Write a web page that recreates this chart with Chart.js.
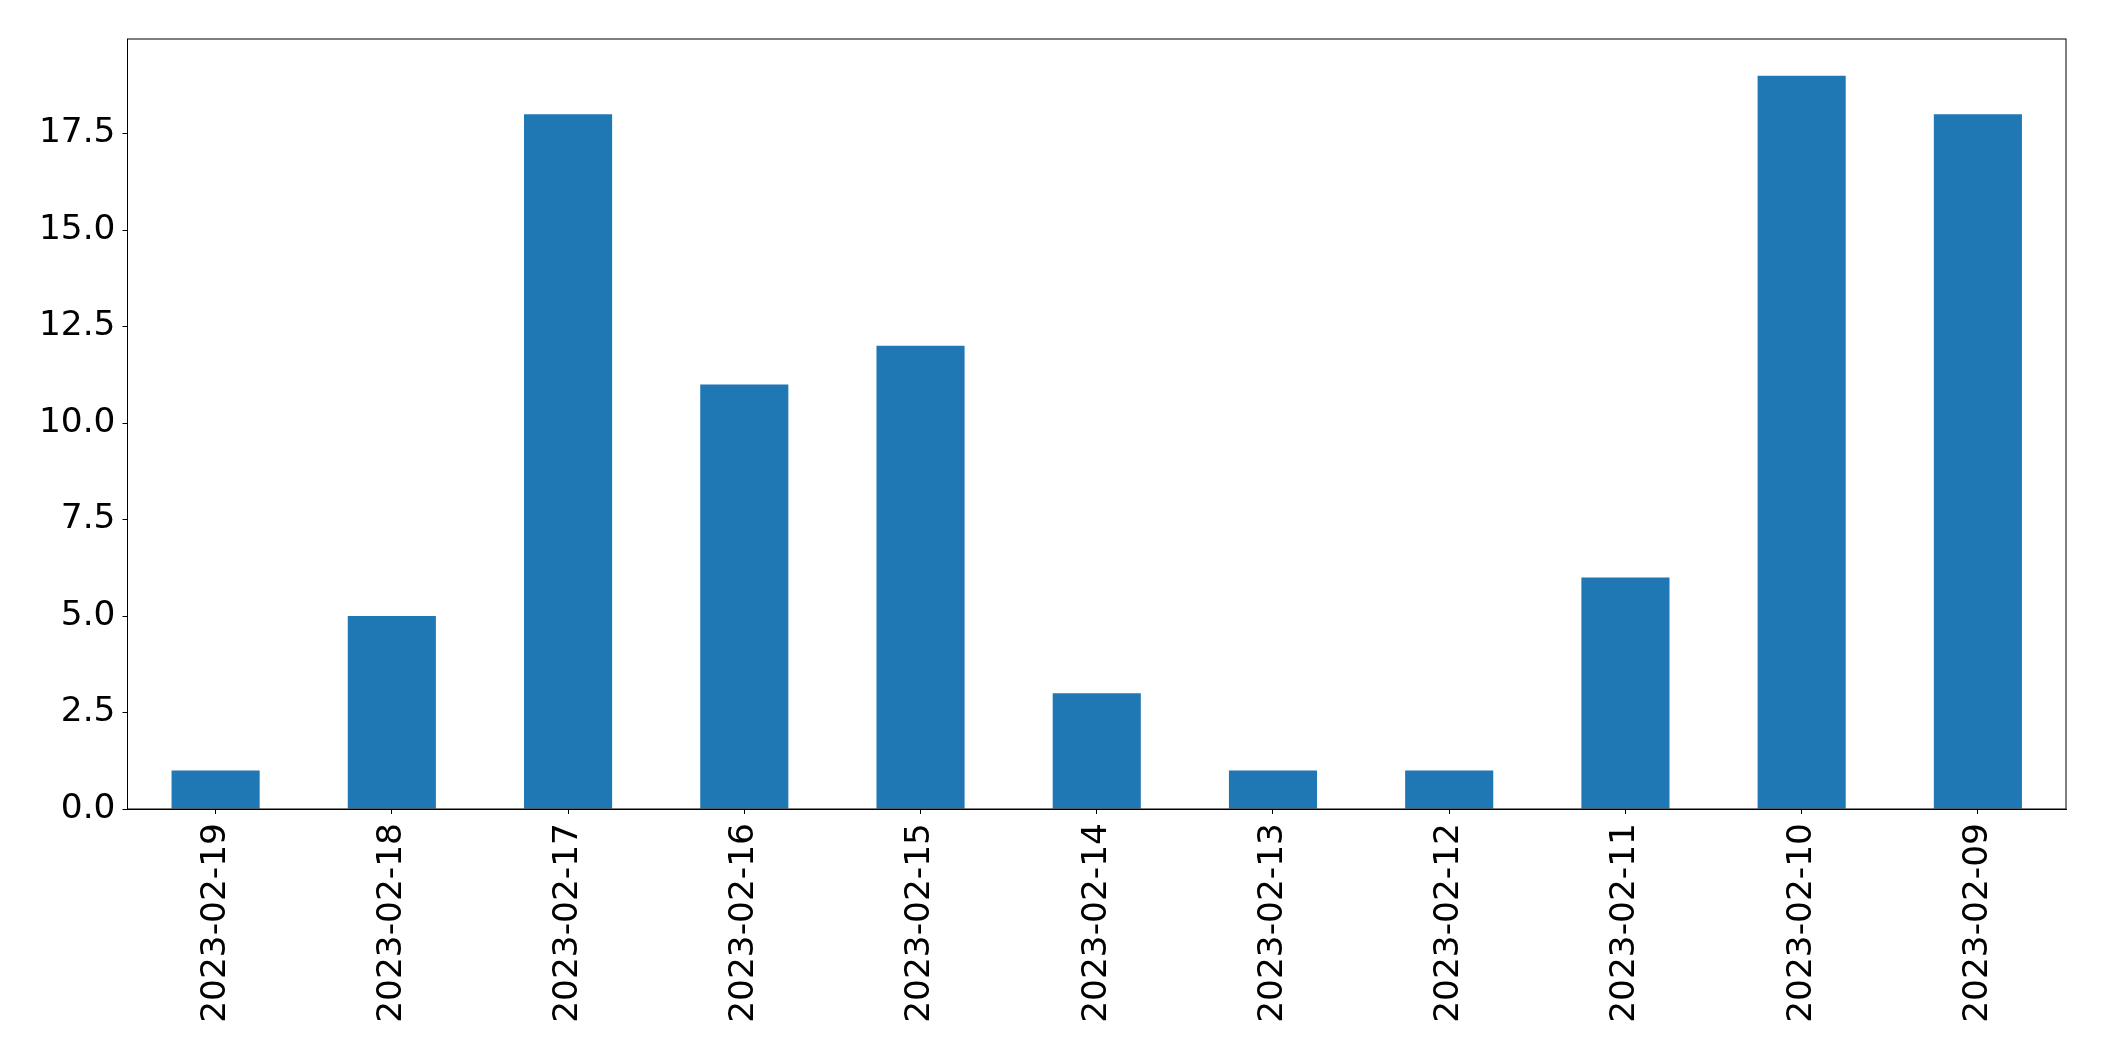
<!DOCTYPE html>
<html>
<head>
<meta charset="utf-8">
<script src="https://cdn.jsdelivr.net/npm/chart.js@4"></script>
<style>
  html, body { margin: 0; padding: 0; background: #fff; }
  #wrap { width: 2104px; height: 1061px; }
</style>
</head>
<body>
<div id="wrap"><canvas id="myChart" width="2104" height="1061"></canvas></div>
<script>
const dates = ['2023-02-19', '2023-02-18', '2023-02-17', '2023-02-16', '2023-02-15', '2023-02-14', '2023-02-13', '2023-02-12', '2023-02-11', '2023-02-10', '2023-02-09'];
const counts = [1, 5, 18, 11, 12, 3, 1, 1, 6, 19, 18];
const yTicks = [0, 2.5, 5, 7.5, 10, 12.5, 15, 17.5];

// draw top and right edges so the plot is boxed like matplotlib
const frame = {
    id: 'frame',
    afterDraw(chart) {
        const a = chart.chartArea;
        const ctx = chart.ctx;
        ctx.save();
        ctx.strokeStyle = '#000';
        ctx.lineWidth = 1;
        ctx.strokeRect(a.left, a.top, a.right - a.left, a.bottom - a.top);
        ctx.restore();
    }
};

const ctx = document.getElementById('myChart').getContext('2d');
new Chart(ctx, {
    type: 'bar',
    data: {
        labels: dates,
        datasets: [{
            data: counts,
            backgroundColor: '#1f77b4',
            barPercentage: 0.5,
            categoryPercentage: 1
        }]
    },
    options: {
        responsive: false,
        animation: false,
        layout: { padding: { left: 0, top: 39, right: 38, bottom: 0 } },
        plugins: { legend: { display: false }, tooltip: { enabled: false } },
        font: { family: 'DejaVu Sans' },
        scales: {
            x: {
                offset: true,
                grid: { display: true, drawOnChartArea: false, tickLength: 5, color: '#000', offset: false },
                border: { display: true, color: '#000' },
                ticks: {
                    color: '#000',
                    font: { family: 'DejaVu Sans', size: 34.4 },
                    minRotation: 90,
                    maxRotation: 90,
                    padding: 9,
                    autoSkip: false
                },
                afterFit(scale) { scale.height = 1061 - 809; }
            },
            y: {
                min: 0,
                max: 19.95,
                grid: { display: true, drawOnChartArea: false, tickLength: 5, color: '#000' },
                border: { display: true, color: '#000' },
                afterBuildTicks(scale) { scale.ticks = yTicks.map(v => ({ value: v })); },
                ticks: {
                    color: '#000',
                    font: { family: 'DejaVu Sans', size: 34.4 },
                    padding: 7,
                    callback: v => Number(v).toFixed(1)
                },
                afterFit(scale) { scale.width = 127.5; }
            }
        }
    },
    plugins: [frame]
});
</script>
</body>
</html>
